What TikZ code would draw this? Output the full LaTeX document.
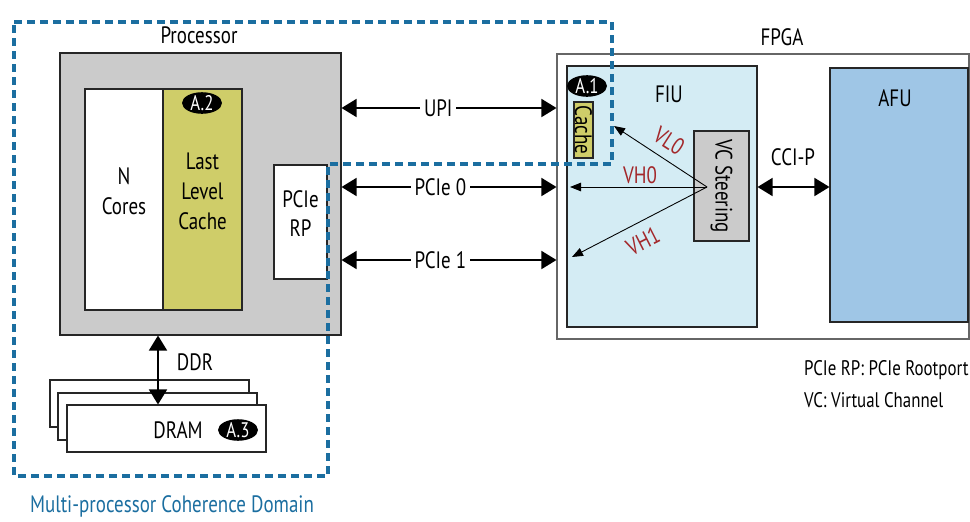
\documentclass[tikz,border=0pt]{standalone}
\usepackage{fontspec}
\setmainfont{PT Sans}[FakeStretch=0.8]
\usetikzlibrary{arrows.meta,fit,shapes.geometric,positioning}
\definecolor{procgray}{HTML}{CBCBCB}
\definecolor{llcyellow}{HTML}{CFCD69}
\definecolor{fiublue}{HTML}{D4ECF4}
\definecolor{afublue}{HTML}{9FC6E6}
\definecolor{vcred}{HTML}{A3282B}
\definecolor{domainblue}{HTML}{1B6EA0}

\begin{document}
\begin{tikzpicture}[x=0.02cm, y=-0.02cm,
  font=\fontsize{13.5}{17}\selectfont,
  box/.style={draw=black!85, line width=0.6pt, inner sep=0pt, align=center},
  tag/.style={ellipse, fill=black, text=white, inner sep=0pt, minimum width=0.8cm, minimum height=0.42cm, font=\fontsize{12}{12}\selectfont},
  bigarrow/.style={{Triangle[length=0.3cm,width=0.36cm]}-{Triangle[length=0.3cm,width=0.36cm]}, line width=0.9pt},
  vcarrow/.style={-{Triangle[length=0.22cm,width=0.17cm]}, line width=0.5pt},
  lbl/.style={fill=white, inner sep=2pt},
  vclbl/.style={text=vcred},
  cohdomain/.style={draw=domainblue, line width=1.9pt, dash pattern=on 4.6pt off 2.8pt}]
    \useasboundingbox (0,0) rectangle (970,521);

    % Processor side
    \node[box, fill=procgray, fit={(60,53) (341,335)}] (proc) {};
    \node (proctitle) at (199,35) {Processor};
    \node[box, fill=white, fit={(85,89) (163,310)}] (cores) {N\\Cores};
    \node[box, fill=llcyellow, fit={(163,89) (242,310)}] (llc) {Last\\Level\\Cache};
    \node[tag] (tagA2) at (202,103) {A.2};
    \node[box, fill=white, fit={(274,165) (327,279)}] (pcierp) {PCIe\\RP};

    % DRAM stack
    \node[box, fill=white, fit={(50,380) (249,427)}] (dramc) {};
    \node[box, fill=white, fit={(58,393) (257,440)}] (dramb) {};
    \node[box, fill=white, fit={(67,405) (266,452)}] (dram) {};
    \node (dramtxt) at (178,430) {DRAM};
    \node[tag] (tagA3) at (238,430) {A.3};

    % FPGA side
    \node[box, draw=black!60, fill=white, fit={(557,54) (969,339)}] (fpga) {};
    \node (fpgatitle) at (782,37) {FPGA};
    \node[box, fill=fiublue, fit={(567,66) (757,327)}] (fiu) {};
    \node (fiutxt) at (669,94) {FIU};
    \node[tag] (tagA1) at (587,86) {A.1};
    \node[box, fill=llcyellow, fit={(574,102) (593,158)}] (cache) {};
    \node[rotate=-90] (cachetxt) at (cache.center) {Cache};
    \node[box, fill=procgray, fit={(694,131) (749,241)}] (vcsteer) {};
    \node[rotate=-90] (vctxt) at (vcsteer.center) {VC Steering};
    \node[box, fill=afublue, fit={(830,68) (968,322)}] (afu) {};
    \node (afutxt) at (895,98) {AFU};

    % Links
    \path (450,108) coordinate (rowupi) (450,187) coordinate (rowpcie0) (450,260) coordinate (rowpcie1) (158,370) coordinate (colddr);
    \draw[bigarrow] (proc.east |- rowupi) -- node[lbl, pos=0.45] (upi) {UPI} (fpga.west |- rowupi);
    \draw[bigarrow] (proc.east |- rowpcie0) -- node[lbl, pos=0.46] (pcie0) {PCIe 0} (fpga.west |- rowpcie0);
    \draw[bigarrow] (proc.east |- rowpcie1) -- node[lbl, pos=0.46] (pcie1) {PCIe 1} (fpga.west |- rowpcie1);
    \draw[bigarrow] (proc.south -| colddr) -- (dram.north -| colddr);
    \node (ddr) at (195,362) {DDR};

    % VC steering channels
    \coordinate (vcsrc) at (707,187);
    \coordinate (vl0end) at (614,126);
    \coordinate (vh0end) at (570,187);
    \coordinate (vh1end) at (572,257);
    \draw[vcarrow] (vcsrc) -- (vl0end);
    \draw[vcarrow] (vcsrc) -- (vh0end);
    \draw[vcarrow] (vcsrc) -- (vh1end);
    \node[vclbl, rotate=-33] (vl0) at (669,141) {VL0};
    \node[vclbl] (vh0) at (640,175) {VH0};
    \node[vclbl, rotate=27] (vh1) at (643,241) {VH1};
    \draw[bigarrow] (fiu.east |- vcsrc) -- (afu.west |- vcsrc);
    \node (ccip) at (793,157) {CCI-P};

    % Coherence domain
    \draw[cohdomain] (14,22) -- (612,22) -- (612,164) -- (328,164) -- (328,476) -- (14,476) -- cycle;
    \node[text=domainblue] (domaintxt) at (172,506) {Multi-processor Coherence Domain};

    % Legend
    \node[anchor=west, font=\fontsize{12}{14}\selectfont] (leg1) at (798,370) {PCIe RP: PCIe Rootport};
    \node[anchor=west, font=\fontsize{12}{14}\selectfont] (leg2) at (798,400) {VC: Virtual Channel};
\end{tikzpicture}
\end{document}
